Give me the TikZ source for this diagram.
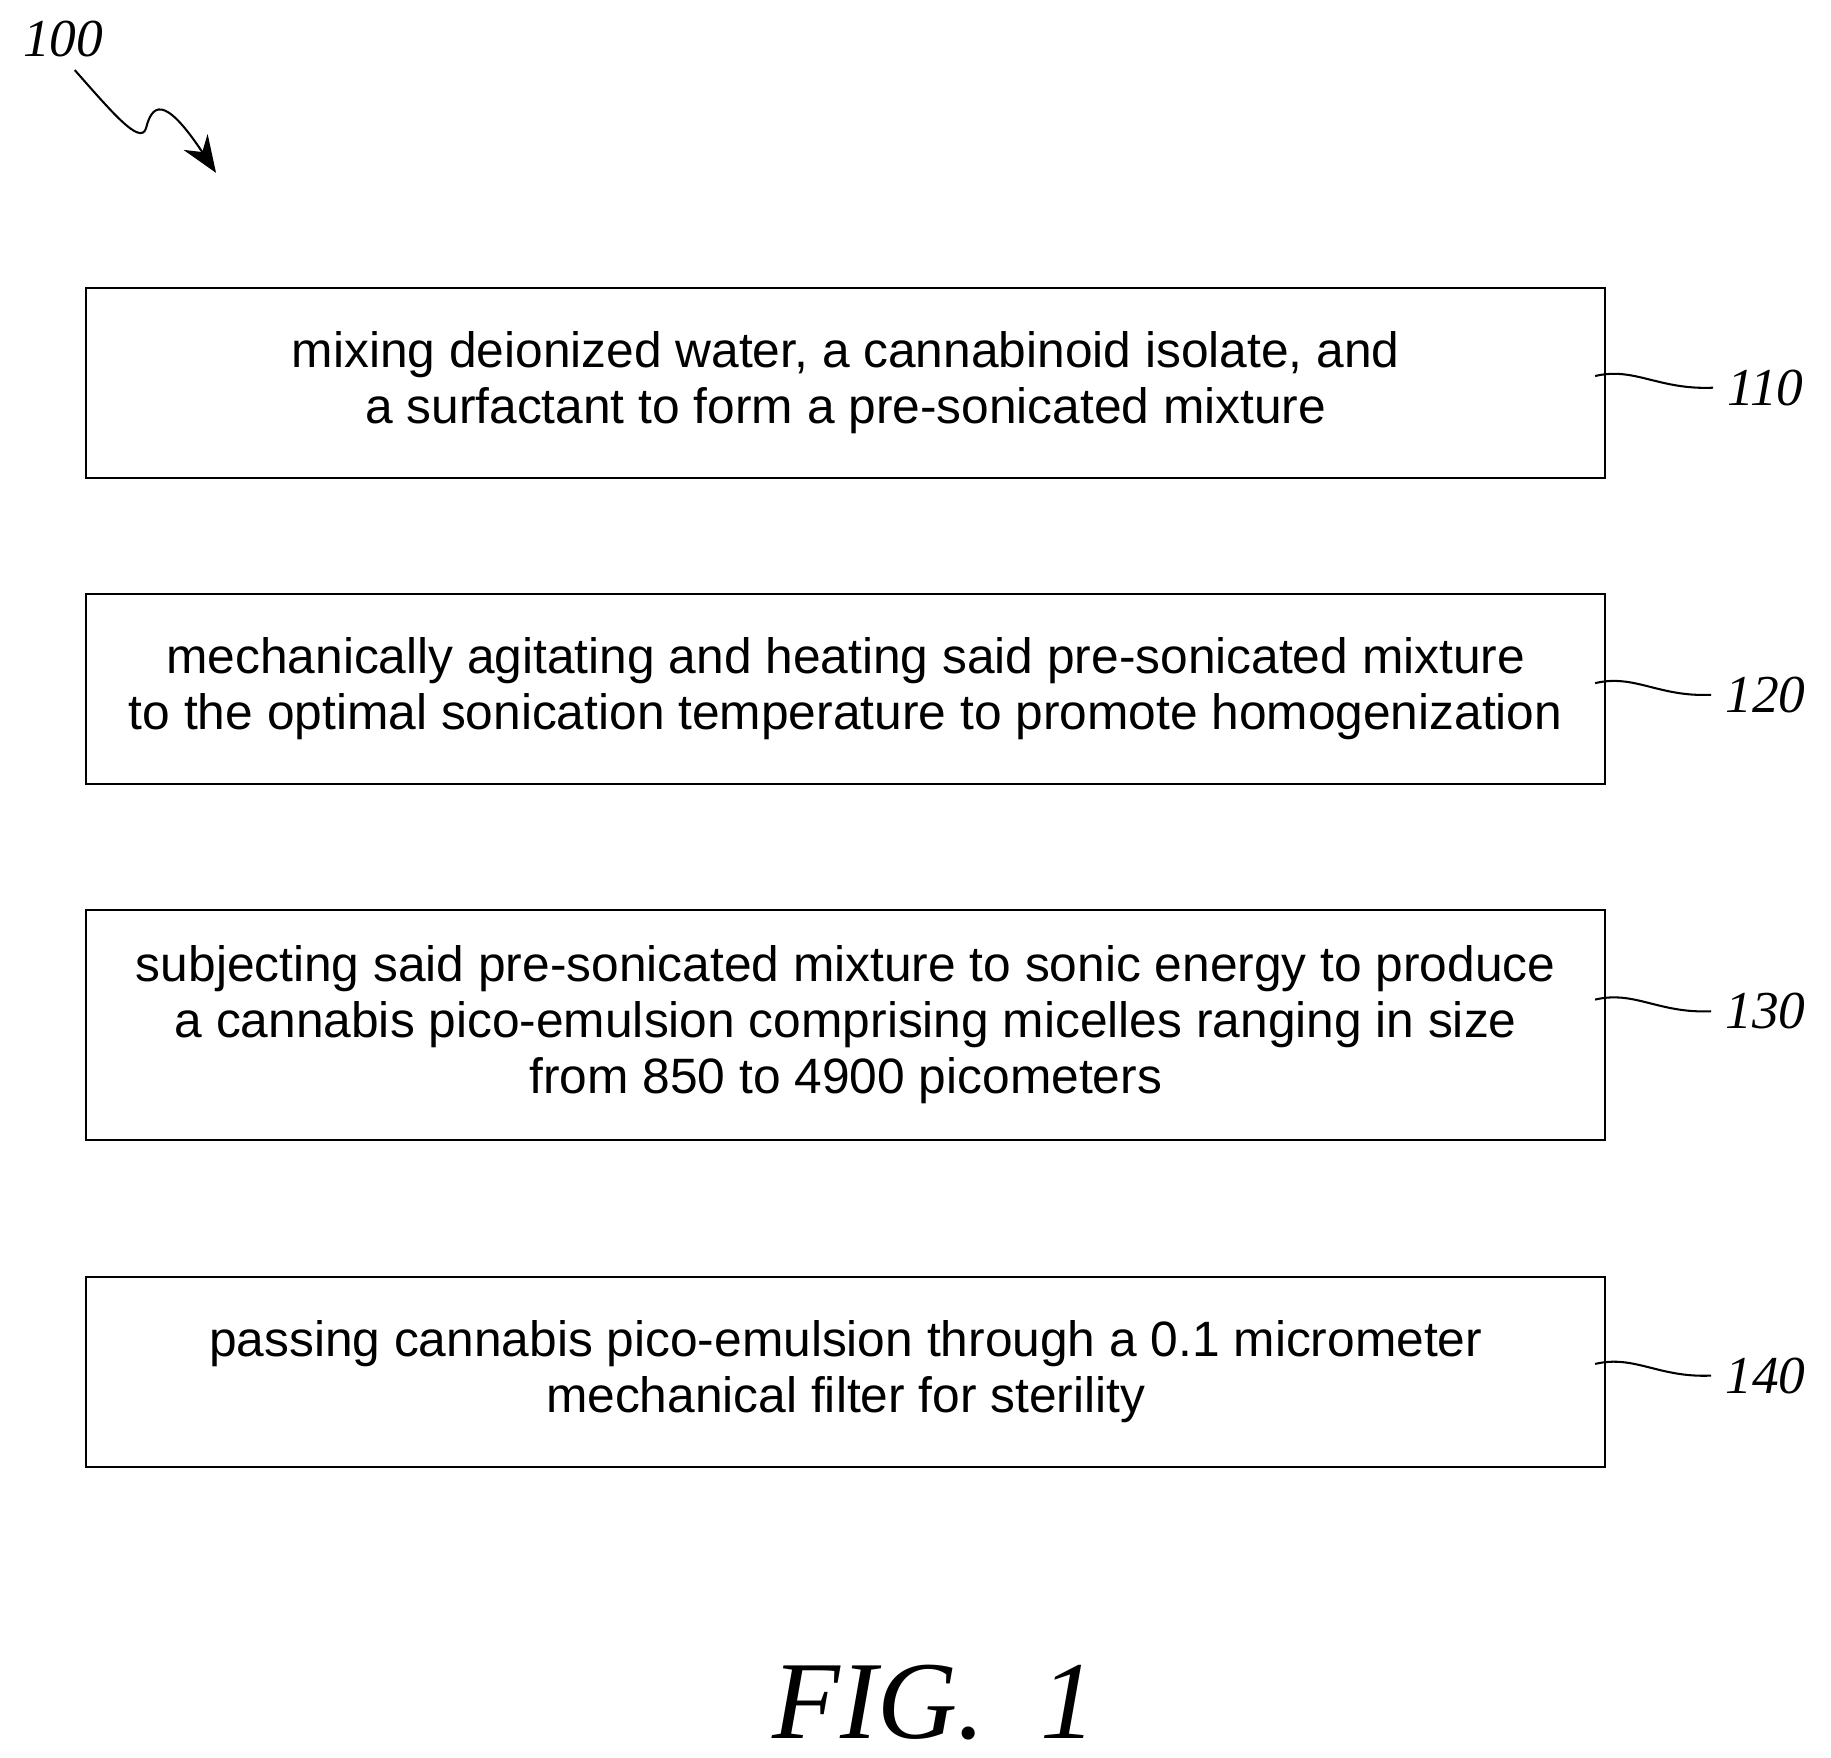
\documentclass[tikz,border=0pt]{standalone}
\usepackage{fontspec}
\setmainfont{Liberation Sans}
\newfontfamily\lblfont{Liberation Serif}
\usetikzlibrary{arrows.meta}
\begin{document}
\begin{tikzpicture}[x=0.01cm,y=-0.01cm,
  box/.style={draw,line width=0.5pt,minimum width=13cm,anchor=north west,inner sep=0pt,align=center,font=\fontsize{12.1}{13.6}\selectfont},
  lbl/.style={font=\lblfont\itshape\fontsize{13}{15}\selectfont},
  lead/.style={line width=0.5pt}]
\useasboundingbox (0,0) rectangle (1568,1505);
\node[box,minimum height=1.62cm] (b1) at (73,246) {mixing deionized water, a cannabinoid isolate, and\\a surfactant to form a pre-sonicated mixture};
\node[box,minimum height=1.62cm] (b2) at (73,508) {mechanically agitating and heating said pre-sonicated mixture\\to the optimal sonication temperature to promote homogenization};
\node[box,minimum height=1.97cm] (b3) at (73,778) {subjecting said pre-sonicated mixture to sonic energy to produce\\a cannabis pico-emulsion comprising micelles ranging in size\\from 850 to 4900 picometers};
\node[box,minimum height=1.62cm] (b4) at (73,1093) {passing cannabis pico-emulsion through a 0.1 micrometer\\mechanical filter for sterility};
\foreach \n/\t/\y in {l1/110/332,l2/120/595,l3/130/866,l4/140/1178}{
  \node[lbl] (\n) at (1512,\y) {\t};
  \coordinate (s\n) at (1366,\y-10);
  \draw[lead] (s\n) .. controls (1400,\y-18) and (1420,\y+2) .. (\n.west);
}
\node[lbl] (l0) at (54,33) {100};
\coordinate (a0) at (185,148);
\draw[lead,-{Stealth[length=9pt,width=7pt]}] (64,60) .. controls (95,95) and (120,125) .. (125,110) .. controls (130,90) and (140,80) .. (a0);
\node[font=\lblfont\itshape\fontsize{27}{30}\selectfont] (fig) at (800,1458) {FIG.\ \ 1};
\end{tikzpicture}
\end{document}
